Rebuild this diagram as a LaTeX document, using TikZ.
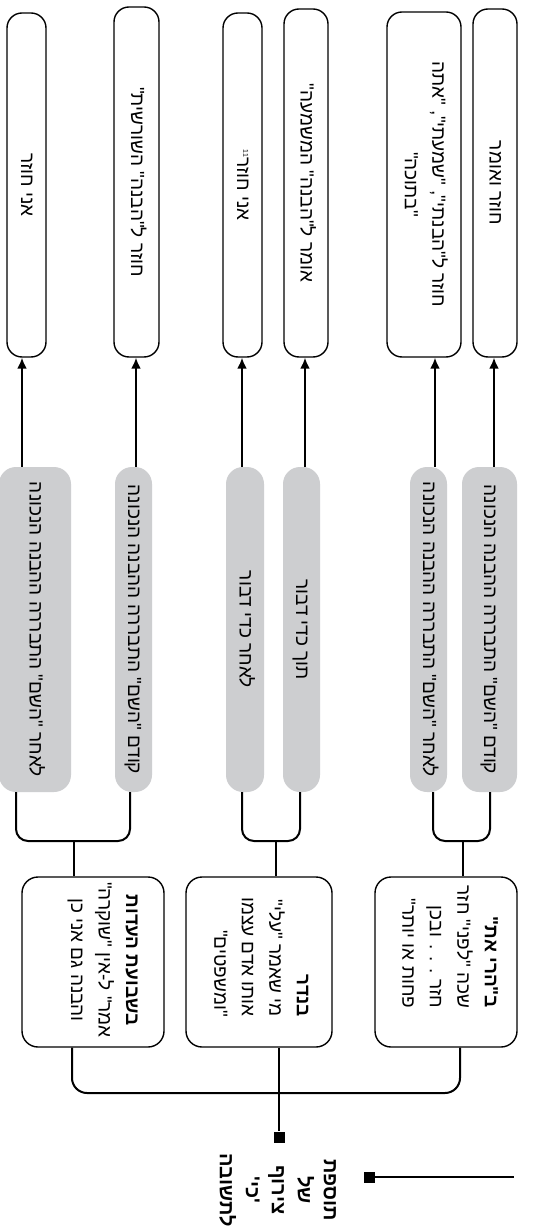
\documentclass[tikz,border=0pt]{standalone}
\usepackage{fontspec}
\usepackage{graphicx}
\setmainfont{Liberation Sans}
\newfontfamily\hebfont[Script=Hebrew]{Liberation Sans}
\TeXXeTstate=1
\usetikzlibrary{arrows.meta,calc}
\definecolor{greyfill}{RGB}{205,206,208}
\newcommand{\hb}[1]{\beginR #1\endR}
\newcommand{\vt}[2][c]{\rotatebox{-90}{\begin{tabular}{@{}#1@{}}#2\end{tabular}}}
\tikzset{
  hebtext/.style={font=\hebfont\fontsize{19}{27.5}\selectfont},
  leafbox/.style={draw, line width=1.4pt, rounded corners=15pt, fill=white, inner sep=0pt, hebtext},
  greybox/.style={fill=greyfill, rounded corners=17pt, inner sep=0pt, hebtext},
  catbox/.style={draw, line width=1.4pt, rounded corners=16pt, fill=white, inner sep=0pt},
  txt/.style={inner sep=0pt, hebtext},
  conn/.style={line width=2pt},
  arr/.style={line width=2pt, -{Latex[length=11pt,width=10pt]}},
  sq/.style={fill=black, minimum size=11pt, inner sep=0pt}
}
\begin{document}
\begin{tikzpicture}[x=1pt,y=-1pt]
\fill[white] (0,0) rectangle (534,1230);
\useasboundingbox (0,0) rectangle (534,1230);

% leaves
\node[leafbox, minimum width=39pt, minimum height=344pt] (L1) at (26.5,185) {\vt{\hb{אני חוזר}}};
\node[leafbox, minimum width=45pt, minimum height=350pt] (L2) at (136.5,182) {\vt{\hb{חוזר ל"הבנה" השורשית"}}};
\node[leafbox, minimum width=39pt, minimum height=344pt] (L3) at (242.5,185) {\vt{\hb{אני חוזר\textsuperscript{\scriptsize 11}}}};
\node[leafbox, minimum width=44pt, minimum height=348pt] (L4) at (306,183) {\vt{\hb{אומר ל"הבנה" המשמעה"}}};
\node[leafbox, minimum width=74pt, minimum height=345pt] (L5) at (424,184.5) {\vt{\fontsize{19}{24.5}\selectfont\hb{חוזר ל"הבנתי", "שמעתי", "אתה}\\\hb{"בתוכה"}}};
\node[leafbox, minimum width=44pt, minimum height=348pt] (L6) at (495,183) {\vt{\hb{חוזר ואומר}}};

% grey boxes
\node[greybox, minimum width=72pt, minimum height=325pt] (G1) at (35,629.5) {\vt{\hb{לאחר "השם" התבררה ההבנה הנכונה}}};
\node[greybox, minimum width=37pt, minimum height=325pt] (G2) at (133.5,629.5) {\vt{\hb{קודם "השם" התבררה ההבנה הנכונה}}};
\node[greybox, minimum width=38pt, minimum height=325pt] (G3) at (245,629.5) {\vt{\hb{לאחר כדי דבור}}};
\node[greybox, minimum width=37pt, minimum height=325pt] (G4) at (301.5,629.5) {\vt{\hb{תוך כדי דבור}}};
\node[greybox, minimum width=37pt, minimum height=325pt] (G5) at (428.5,629.5) {\vt{\hb{לאחר "השם" התבררה ההבנה הנכונה}}};
\node[greybox, minimum width=55pt, minimum height=325pt] (G6) at (489.5,629.5) {\vt{\hb{קודם "השם" התבררה ההבנה הנכונה}}};

% category boxes
\node[catbox, minimum width=142pt, minimum height=170pt] (A) at (93,962) {};
\node[catbox, minimum width=146pt, minimum height=170pt] (B) at (259,962) {};
\node[catbox, minimum width=142pt, minimum height=170pt] (C) at (446,962) {};
\node[txt] (At) at (104,960) {\vt{\textbf{\hb{בשבועת העדות}}\\\hb{אמר" ל-אין "שוקרה"}\\\hb{והבנה גם אני כן}}};
\node[txt] (Bt) at (261,957) {\vt[r]{\textbf{\hb{בנדר}}\\\hb{מי שאמר "עלי"}\\\hb{אותו אדם עצמו}\\\hb{"ומשפטים"}}};
\node[txt] (Ct) at (449,947) {\vt[r]{\textbf{\hb{ב"הרי את"}}\\\hb{שכה "לפני" חזר}\\\hb{חזר . . . ובכן}\\\hb{פחות או יותר"}}};

% root text
\node[txt, font=\hebfont\bfseries\fontsize{20}{26}\selectfont] (root) at (277,1190) {\vt{\hb{תוספת}\\\hb{של}\\\hb{צירוף}\\\hb{'כי'}\\\hb{לתשובה}}};

% coordinates
\coordinate (p1) at (22,400);
\coordinate (p2) at (136,400);
\coordinate (p3) at (242,400);
\coordinate (p4) at (305,400);
\coordinate (p5) at (435,400);
\coordinate (p6) at (494,400);

\coordinate (ga1) at (16,841);
\coordinate (ga2) at (130,841);
\coordinate (gam) at (74,841);
\coordinate (gb1) at (242,841);
\coordinate (gb2) at (300,841);
\coordinate (gbm) at (276,841);
\coordinate (gc1) at (433,841);
\coordinate (gc2) at (490,841);
\coordinate (gcm) at (463,841);

\coordinate (mA) at (72,1093);
\coordinate (mB) at (279,1093);
\coordinate (mC) at (460,1093);

\node[sq] (sq1) at (279,1137) {};
\node[sq] (sq2) at (369,1177) {};
\coordinate (tail) at (514,1177);

% arrows to leaves
\draw[arr] (G1.north -| p1) -- (L1.south -| p1);
\draw[arr] (G2.north -| p2) -- (L2.south -| p2);
\draw[arr] (G3.north -| p3) -- (L3.south -| p3);
\draw[arr] (G4.north -| p4) -- (L4.south -| p4);
\draw[arr] (G5.north -| p5) -- (L5.south -| p5);
\draw[arr] (G6.north -| p6) -- (L6.south -| p6);

% group brackets
\draw[conn, rounded corners=12pt] (G1.south -| ga1) -- (ga1) -- (ga2) -- (G2.south -| ga2);
\draw[conn] (A.north -| gam) -- (gam);
\draw[conn, rounded corners=12pt] (G3.south -| gb1) -- (gb1) -- (gb2) -- (G4.south -| gb2);
\draw[conn] (B.north -| gbm) -- (gbm);
\draw[conn, rounded corners=12pt] (G5.south -| gc1) -- (gc1) -- (gc2) -- (G6.south -| gc2);
\draw[conn] (C.north -| gcm) -- (gcm);

% main bracket
\draw[conn, rounded corners=15pt] (A.south -| mA) -- (mA) -- (mC) -- (C.south -| mC);
\draw[conn] (B.south -| mB) -- (sq1);
\draw[conn] (sq2) -- (tail);
\end{tikzpicture}
\end{document}
